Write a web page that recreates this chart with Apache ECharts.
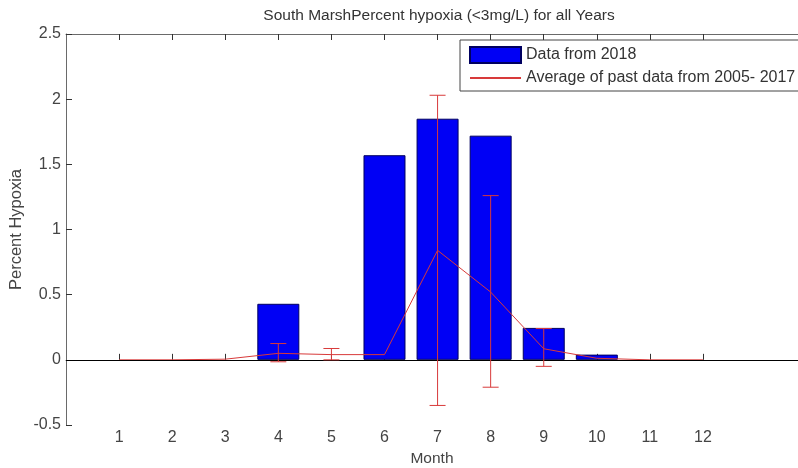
<!DOCTYPE html>
<html>
<head>
<meta charset="utf-8">
<script src="https://cdn.jsdelivr.net/npm/echarts@6/dist/echarts.min.js"></script>
<style>html,body{margin:0;padding:0;background:#fff}#c{width:798px;height:468px}</style>
</head>
<body>
<div id="c"></div>
<script>
var months = [1, 2, 3, 4, 5, 6, 7, 8, 9, 10, 11, 12];
var data2018 = [0, 0, 0, 0.43, 0, 1.57, 1.85, 1.72, 0.245, 0.04, 0, 0];
var avgPast = [0, 0, 0.005, 0.05, 0.04, 0.04, 0.84, 0.52, 0.085, 0.012, 0, 0];
var errLow = [null, null, null, -0.015, 0.0, null, -0.35, -0.21, -0.05, null, null, null];
var errHigh = [null, null, null, 0.125, 0.087, null, 2.03, 1.26, 0.24, null, null, null];

var font = 'Liberation Sans, Arial, sans-serif';
var axisGray = '#6a6a6a';
var red = '#d83a3a';

// zero-height bars are not visible in the reference, so they are left empty
var barData = months.map(function (m, i) { return data2018[i] === 0 ? [m, '-'] : [m, data2018[i]]; });
var lineData = months.map(function (m, i) { return [m, avgPast[i]]; });
var errData = [];
months.forEach(function (m, i) {
  if (errLow[i] !== null && errHigh[i] !== null) errData.push([m, errLow[i], errHigh[i]]);
});

var chart = echarts.init(document.getElementById('c'), null, {renderer: 'canvas'});
chart.setOption({
  animation: false,
  backgroundColor: '#fff',
  title: {
    text: 'South MarshPercent hypoxia (<3mg/L) for all Years',
    left: 434, top: 3, textAlign: 'center',
    textStyle: {fontFamily: font, fontSize: 15.5, fontWeight: 'normal', color: '#333'}
  },
  legend: {
    orient: 'vertical',
    left: 460, top: 40,
    padding: [6, 10, 5, 9],
    itemGap: 6,
    itemWidth: 51, itemHeight: 16,
    borderColor: '#444', borderWidth: 1,
    backgroundColor: '#fff',
    textStyle: {fontFamily: font, fontSize: 16, color: '#333'},
    data: [
      {name: 'Data from 2018', icon: 'rect'},
      {name: 'Average of past data from 2005- 2017', itemStyle: {opacity: 0}}
    ]
  },
  grid: {left: 66, top: 34, right: 0, bottom: 43, outerBoundsMode: 'none', containLabel: false},
  xAxis: [{
    type: 'value', min: 0, max: 13.79, position: 'bottom',
    splitLine: {show: false},
    axisLine: {show: true, lineStyle: {color: axisGray, width: 1}},
    axisTick: {show: true, inside: true, length: 6, customValues: months, lineStyle: {color: '#333'}},
    axisLabel: {customValues: months, margin: 5, fontFamily: font, fontSize: 16, color: '#444'},
    name: 'Month', nameLocation: 'middle', nameGap: 25,
    nameTextStyle: {fontFamily: font, fontSize: 15.5, color: '#444'}
  }, {
    type: 'value', min: 0, max: 13.79, position: 'top',
    splitLine: {show: false},
    axisLine: {show: true, lineStyle: {color: axisGray, width: 1}},
    axisTick: {show: true, inside: true, length: 6, customValues: months, lineStyle: {color: '#333'}},
    axisLabel: {show: false}
  }],
  yAxis: {
    type: 'value', min: -0.5, max: 2.5, interval: 0.5,
    splitLine: {show: false},
    axisLine: {show: true, lineStyle: {color: axisGray, width: 1}},
    axisTick: {show: true, inside: true, length: 6, lineStyle: {color: '#333'}},
    axisLabel: {margin: 5, fontFamily: font, fontSize: 16, color: '#444'},
    name: 'Percent Hypoxia', nameLocation: 'middle', nameGap: 41, nameMoveOverlap: false,
    nameTextStyle: {fontFamily: font, fontSize: 16.5, color: '#444'}
  },
  series: [{
    name: 'Data from 2018',
    type: 'bar',
    xAxisIndex: 0,
    data: barData,
    barWidth: 42,
    itemStyle: {color: '#0000f5', borderColor: '#000060', borderWidth: 1},
    z: 2,
    markLine: {
      silent: true, symbol: 'none', label: {show: false},
      lineStyle: {color: '#000', width: 1, type: 'solid'},
      data: [{yAxis: 0}]
    }
  }, {
    name: 'Average of past data from 2005- 2017',
    type: 'line',
    xAxisIndex: 0,
    data: lineData,
    symbol: 'none',
    lineStyle: {color: red, width: 1},
    itemStyle: {color: red},
    z: 4
  }, {
    name: 'err',
    type: 'custom',
    xAxisIndex: 0,
    data: errData,
    encode: {x: 0, y: [1, 2]},
    z: 5,
    renderItem: function (params, api) {
      var x = api.value(0);
      var lo = api.coord([x, api.value(1)]);
      var hi = api.coord([x, api.value(2)]);
      var hw = 8;
      var st = {stroke: red, lineWidth: 1};
      return {
        type: 'group',
        children: [
          {type: 'line', shape: {x1: lo[0], y1: lo[1], x2: hi[0], y2: hi[1]}, style: st},
          {type: 'line', shape: {x1: hi[0] - hw, y1: hi[1], x2: hi[0] + hw, y2: hi[1]}, style: st},
          {type: 'line', shape: {x1: lo[0] - hw, y1: lo[1], x2: lo[0] + hw, y2: lo[1]}, style: st}
        ]
      };
    }
  }]
});
</script>
</body>
</html>
